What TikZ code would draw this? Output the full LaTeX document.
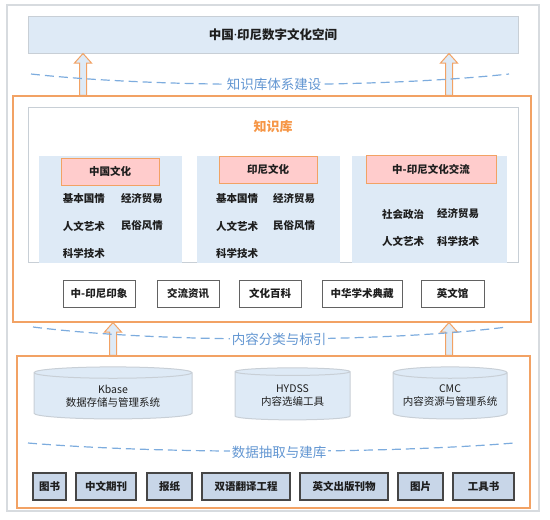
\documentclass[tikz,border=0pt]{standalone}
\usepackage{fontspec}
\setmainfont{Noto Sans CJK SC}
\newfontfamily\latinfont{Noto Sans}
\usetikzlibrary{arrows.meta, positioning, calc, shapes.geometric}
\definecolor{skyfill}{RGB}{222,234,246}
\definecolor{boxgray}{RGB}{200,207,214}
\definecolor{framegray}{RGB}{215,219,223}
\definecolor{myorange}{RGB}{242,162,100}
\definecolor{headorange}{RGB}{246,150,70}
\definecolor{mypink}{RGB}{255,204,204}
\definecolor{dashblue}{RGB}{125,172,222}
\definecolor{labelblue}{RGB}{98,150,210}
\definecolor{srcfill}{RGB}{200,214,232}
\definecolor{darkline}{RGB}{70,70,70}
\definecolor{inktext}{RGB}{30,30,30}
\tikzstyle{frame}   = [rectangle, draw=framegray, line width=1.2pt, inner sep=0pt]
\tikzstyle{plate}   = [rectangle, draw=boxgray, line width=1pt, fill=skyfill, inner sep=0pt]
\tikzstyle{shell}   = [rectangle, draw=myorange, line width=1.1pt, inner sep=0pt]
\tikzstyle{panel}   = [rectangle, fill=skyfill, inner sep=0pt]
\tikzstyle{header}  = [rectangle, draw=myorange, line width=1pt, fill=mypink, inner sep=0pt,
                       font=\fontsize{10.5}{12}\selectfont\bfseries, text=inktext]
\tikzstyle{item}    = [font=\fontsize{10.5}{12}\selectfont\bfseries, text=inktext, inner sep=1pt]
\tikzstyle{portal}  = [rectangle, draw=darkline!85, line width=1pt, fill=white, inner sep=0pt,
                       minimum height=27pt, font=\fontsize{10.5}{12}\selectfont\bfseries, text=inktext]
\tikzstyle{source}  = [rectangle, draw=darkline, line width=1.3pt, fill=srcfill, inner sep=0pt,
                       minimum height=27pt, font=\fontsize{10.5}{12}\selectfont\bfseries, text=inktext]
\tikzstyle{store}   = [cylinder, shape border rotate=90, aspect=0.12, draw=boxgray, line width=1pt,
                       fill=skyfill, inner sep=0pt, minimum height=52pt, align=center,
                       font=\fontsize{10.5}{13}\selectfont, text=inktext]
\tikzstyle{layer}   = [fill=white, inner sep=1.5pt, text=labelblue, font=\fontsize{13.5}{15}\selectfont]
\tikzstyle{dashline} = [draw=dashblue, line width=1.2pt, dash pattern=on 9pt off 5pt]
\tikzstyle{liftarr} = [draw=myorange, line width=1pt, fill=skyfill, line join=miter]

% hollow upward arrow: x position, lower node, upper node
\newcommand{\liftarrow}[3]{%
  \draw[liftarr] ($(#1,0 |- #2.north)+(-3.5,0)$) -- ($(#1,0 |- #3.south)+(-3.5,9.5)$)
    -- ($(#1,0 |- #3.south)+(-8.5,9.5)$) -- (#1,0 |- #3.south) -- ($(#1,0 |- #3.south)+(8.5,9.5)$)
    -- ($(#1,0 |- #3.south)+(3.5,9.5)$) -- ($(#1,0 |- #2.north)+(3.5,0)$) -- cycle;}

\begin{document}
\begin{tikzpicture}[x=1pt, y=-1pt]
    \useasboundingbox (0,0) rectangle (550,520);
    \node[frame, minimum width=532pt, minimum height=506pt] (page) at (273,258) {};

    % top layer
    \node[plate, minimum width=490pt, minimum height=37pt,
          font=\fontsize{12.5}{14}\selectfont\bfseries, text=inktext] (space) at (273,34.5)
          {中国{\latinfont\bfseries ·}印尼数字文化空间};

    % knowledge base
    \node[shell, minimum width=518pt, minimum height=226pt] (kbshell) at (272,209) {};
    \node[rectangle, draw=boxgray, line width=1pt, fill=white, minimum width=490pt, minimum height=155pt] (kbinner) at (273,184.5) {};
    \node[text=headorange, font=\fontsize{13}{15}\selectfont\bfseries] (kbtitle) at (273,127) {知识库};

    \node[panel, minimum width=143pt, minimum height=107pt] (cnpanel) at (110.5,209.5) {};
    \node[panel, minimum width=143pt, minimum height=107pt] (idpanel) at (268.5,209.5) {};
    \node[panel, minimum width=155pt, minimum height=107pt] (expanel) at (429.5,209.5) {};

    \node[header, minimum width=98pt, minimum height=27pt] (cnhead) at (110,171.5) {中国文化};
    \node[header, minimum width=98pt, minimum height=27pt] (idhead) at (268,169.5) {印尼文化};
    \node[header, minimum width=130pt, minimum height=28pt] (exhead) at (431,169) {中-印尼文化交流};

    \node[item] (cn1) at (84,199)  {基本国情};
    \node[item] (cn2) at (142,199) {经济贸易};
    \node[item] (cn3) at (84,226)  {人文艺术};
    \node[item] (cn4) at (142,226) {民俗风情};
    \node[item] (cn5) at (84,253)  {科学技术};

    \node[item] (id1) at (237,199) {基本国情};
    \node[item] (id2) at (294,199) {经济贸易};
    \node[item] (id3) at (237,226) {人文艺术};
    \node[item] (id4) at (294,226) {民俗风情};
    \node[item] (id5) at (237,253) {科学技术};

    \node[item] (ex1) at (403,214) {社会政治};
    \node[item] (ex2) at (458,214) {经济贸易};
    \node[item] (ex3) at (403,241) {人文艺术};
    \node[item] (ex4) at (458,241) {科学技术};

    \node[portal, minimum width=72pt] (imp)  at (99,293.5)  {中-印尼印象};
    \node[portal, minimum width=62pt] (news) at (188,293.5) {交流资讯};
    \node[portal, minimum width=62pt] (wiki) at (270,293.5) {文化百科};
    \node[portal, minimum width=80pt] (acad) at (362,293.5) {中华学术典藏};
    \node[portal, minimum width=63pt] (eng)  at (452.5,293.5) {英文馆};

    % tools and sources
    \node[shell, minimum width=513pt, minimum height=152pt] (toolshell) at (273.5,432) {};
    \node[store, minimum width=158pt] (kbase) at (113,396)   {Kbase\\数据存储与管理系统};
    \node[store, minimum width=115pt] (hydss) at (292.5,396) {HYDSS\\内容选编工具};
    \node[store, minimum width=114pt] (cmc)   at (450,396)   {CMC\\内容资源与管理系统};

    \node[source, minimum width=33pt] (books)  at (49.5,486.5)  {图书};
    \node[source, minimum width=60pt] (jour)   at (106,486.5)   {中文期刊};
    \node[source, minimum width=45pt] (paper)  at (169.5,486.5) {报纸};
    \node[source, minimum width=88pt] (trans)  at (246,486.5)   {双语翻译工程};
    \node[source, minimum width=88pt] (enpub)  at (344,486.5)   {英文出版刊物};
    \node[source, minimum width=45pt] (pics)   at (420.5,486.5) {图片};
    \node[source, minimum width=61pt] (tools)  at (483.5,486.5) {工具书};

    % lifts between layers
    \liftarrow{83}{kbshell}{space}
    \liftarrow{449}{kbshell}{space}
    \liftarrow{113}{toolshell}{kbshell}
    \liftarrow{449}{toolshell}{kbshell}

    % layer boundaries
    \coordinate (b1l) at (31,74);   \coordinate (b1r) at (509,74);
    \coordinate (b2l) at (33,327);  \coordinate (b2r) at (507,327);
    \coordinate (b3l) at (28,443);  \coordinate (b3r) at (514,443);
    \draw[dashline] (b1l) .. controls (160,88) and (380,88) .. (b1r);
    \draw[dashline] (b2l) .. controls (160,343) and (380,343) .. (b2r);
    \draw[dashline] (b3l) .. controls (160,454) and (380,454) .. (b3r);
    \node[layer] (build) at (274,84)  {知识库体系建设};
    \node[layer] (index) at (279,339) {内容分类与标引};
    \node[layer] (fetch) at (279,452) {数据抽取与建库};
\end{tikzpicture}
\end{document}
